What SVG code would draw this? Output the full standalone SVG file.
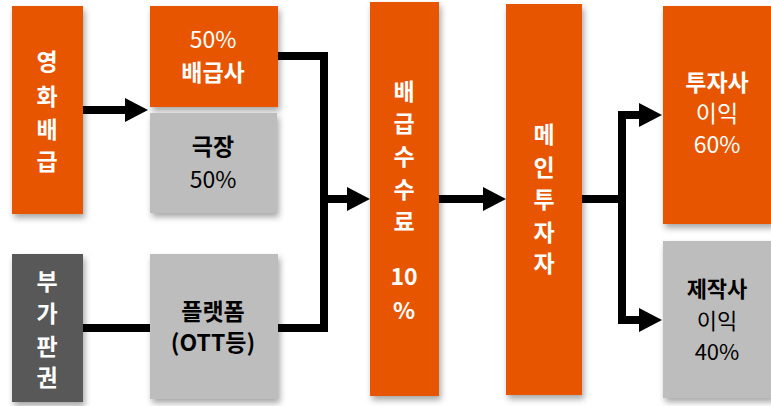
<svg xmlns="http://www.w3.org/2000/svg" width="771" height="406" viewBox="0 0 771 406">
<defs>
<filter id="sh" x="-20%" y="-20%" width="140%" height="140%">
<feDropShadow dx="2" dy="4" stdDeviation="3" flood-color="#000" flood-opacity="0.35"/>
</filter>
<marker id="ah" markerUnits="userSpaceOnUse" markerWidth="24" markerHeight="26" refX="0" refY="12" orient="auto">
<path d="M0,0 L23,12 L0,24 z" fill="#000"/>
</marker>
<style>
.or{fill:#E85505;filter:url(#sh)}
.gr{fill:#BDBDBD;filter:url(#sh)}
.dk{fill:#595959;filter:url(#sh)}
text{font-family:"Noto Sans CJK KR","Noto Sans",sans-serif;text-anchor:middle;font-size:23px}
.w{fill:#fff}
.b{fill:#000}
.bd{font-weight:700}
.s{font-size:22px}
.v{font-weight:700;font-size:23px;dominant-baseline:central}
.c{fill:none;stroke:#000;stroke-width:8;stroke-linejoin:miter}
</style>
</defs>
<rect width="771" height="406" fill="#fff"/>
<g id="connectors">
<path class="c" d="M83,110 H125" marker-end="url(#ah)"/>
<path class="c" d="M278,56 H324 V328 H278"/>
<path class="c" d="M83,328 H150"/>
<path class="c" d="M324,199 H347" marker-end="url(#ah)"/>
<path class="c" d="M439,199 H483" marker-end="url(#ah)"/>
<path class="c" d="M582,199 H626"/>
<path class="c" d="M622,115 V320"/>
<path class="c" d="M618,115 H639" marker-end="url(#ah)"/>
<path class="c" d="M618,320 H639" marker-end="url(#ah)"/>
</g>
<g id="n-movie">
<rect class="or" x="12" y="6" width="71" height="208"/>
<text class="w v" x="47" y="60">영</text>
<text class="w v" x="47" y="95">화</text>
<text class="w v" x="47" y="128">배</text>
<text class="w v" x="47" y="160">급</text>
</g>
<g id="n-extra">
<rect class="dk" x="12" y="254" width="71" height="148"/>
<text class="w v" x="47" y="280">부</text>
<text class="w v" x="47" y="312">가</text>
<text class="w v" x="47" y="345">판</text>
<text class="w v" x="47" y="376">권</text>
</g>
<g id="n-dist">
<rect class="or" x="150" y="6" width="128" height="101"/>
<text class="w" x="213" y="48">50%</text>
<text class="w bd" x="213" y="81">배급사</text>
</g>
<g id="n-theater">
<rect class="gr" x="150" y="113" width="127" height="100"/>
<text class="b bd" x="213" y="155">극장</text>
<text class="b" x="213" y="188">50%</text>
</g>
<g id="n-platform">
<rect class="gr" x="150" y="254" width="128" height="145"/>
<text class="b bd" x="213" y="320">플랫폼</text>
<text class="b bd" x="213" y="351">(OTT등)</text>
</g>
<g id="n-fee">
<rect class="or" x="370" y="2" width="69" height="394"/>
<text class="w v" x="404" y="90">배</text>
<text class="w v" x="404" y="122">급</text>
<text class="w v" x="404" y="155">수</text>
<text class="w v" x="404" y="188">수</text>
<text class="w v" x="404" y="220">료</text>
<text class="w v s" x="404" y="275">10</text>
<text class="w v s" x="404" y="309">%</text>
</g>
<g id="n-investor">
<rect class="or" x="506" y="4" width="76" height="391"/>
<text class="w v" x="544" y="133">메</text>
<text class="w v" x="544" y="166">인</text>
<text class="w v" x="544" y="198">투</text>
<text class="w v" x="544" y="231">자</text>
<text class="w v" x="544" y="262">자</text>
</g>
<g id="n-invprofit">
<rect class="or" x="663" y="6" width="110" height="218"/>
<text class="w bd" x="717" y="91">투자사</text>
<text class="w" x="717" y="122">이익</text>
<text class="w" x="717" y="153">60%</text>
</g>
<g id="n-prodprofit">
<rect class="gr" x="663" y="241" width="110" height="157"/>
<text class="b bd s" x="717" y="297">제작사</text>
<text class="b s" x="717" y="329">이익</text>
<text class="b s" x="717" y="360">40%</text>
</g>
</svg>
